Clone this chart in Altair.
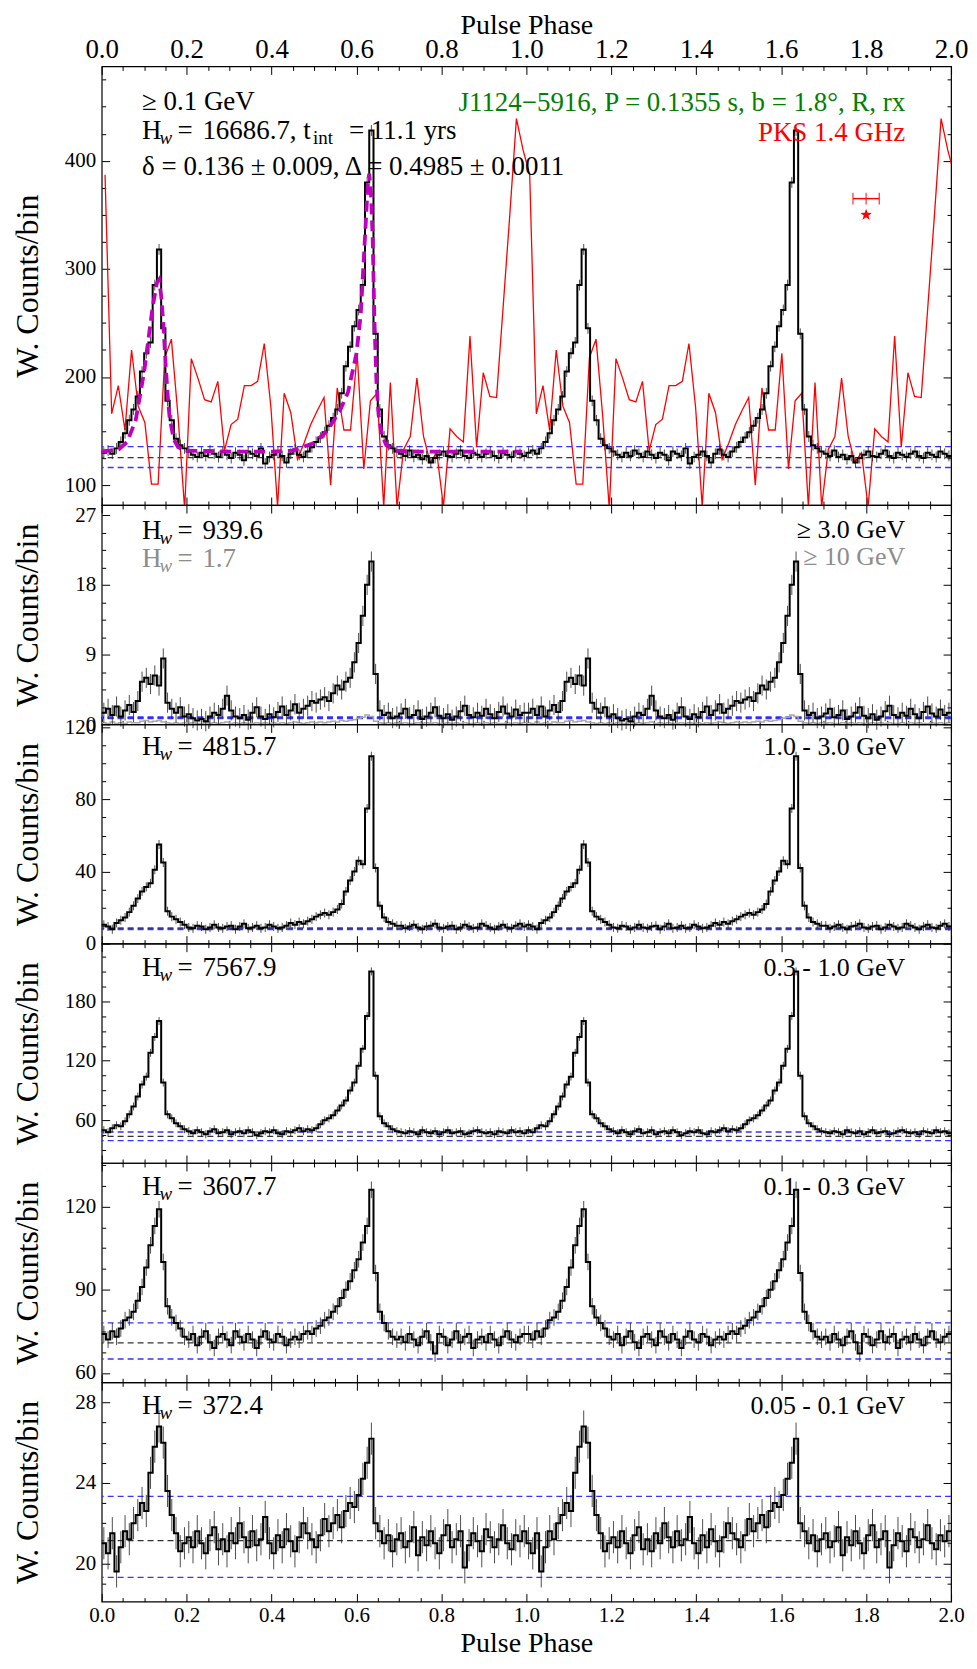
import altair as alt
import pandas as pd

FONT = "Liberation Serif"
NB = 100                      # bins per rotation; the figure shows two rotations
W, H_TOP, H_SUB = 852, 440, 220

# ---------------- weighted counts per bin (one rotation, phase 0-1) ----------------
ge01 = [130, 132, 129, 134, 140, 148, 160, 170, 182, 205,
        222, 232, 285, 318, 245, 178, 160, 143, 137, 134,
        131, 128, 126, 130, 127, 132, 129, 126, 131, 128,
        125, 130, 128, 123, 131, 129, 127, 134, 120, 126,
        128, 131, 127, 121, 129, 133, 128, 126, 131, 135,
        140, 144, 149, 155, 162, 170, 185, 210, 228, 247,
        262, 285, 380, 428, 240, 170, 145, 137, 134, 131,
        129, 127, 132, 126, 128, 124, 127, 121, 125, 128,
        131, 127, 126, 129, 132, 127, 125, 130, 128, 126,
        129, 131, 127, 125, 130, 128, 126, 131, 129, 127]

ge3 = [1.5, 2.0, 1.2, 2.3, 1.0, 1.8, 2.5, 1.6, 3.0, 5.5,
       6.0, 5.2, 6.3, 5.0, 8.5, 2.8, 2.0, 1.5, 2.2, 1.0,
       1.3, 0.8, 0.5, 0.7, 0.4, 1.0, 1.5, 1.2, 2.0, 3.7,
       1.8, 1.0, 0.8, 1.2, 0.6, 1.5, 2.2, 1.0, 0.7, 1.3,
       0.9, 1.6, 2.3, 1.2, 1.8, 2.6, 1.5, 2.0, 2.4, 3.0,
       2.8, 3.2, 3.5, 3.0, 4.0, 5.0, 4.5, 5.5, 6.0, 8.0,
       10.5, 14.0, 18.0, 21.0, 6.5, 1.8, 1.2, 1.5, 0.8, 1.0,
       1.4, 2.0, 0.9, 1.2, 1.8, 0.7, 1.0, 1.5, 2.2, 1.1,
       0.8, 1.3, 0.6, 1.0, 1.7, 2.4, 1.2, 0.9, 1.5, 1.1,
       2.0, 1.3, 0.8, 1.6, 2.3, 1.4, 1.0, 1.9, 1.2, 1.5]

ge10 = [0.2, 0.1, 0.3, 0.1, 0.2, 0.1, 0.3, 0.2, 0.2, 0.4,
        0.5, 0.3, 0.4, 0.5, 0.3, 0.2, 0.1, 0.2, 0.1, 0.2,
        0.1, 0.2, 0.1, 0.1, 0.2, 0.1, 0.2, 0.1, 0.2, 0.3,
        0.1, 0.2, 0.1, 0.2, 0.1, 0.1, 0.2, 0.1, 0.2, 0.1,
        0.2, 0.1, 0.2, 0.1, 0.2, 0.3, 0.2, 0.1, 0.2, 0.3,
        0.2, 0.3, 0.2, 0.3, 0.4, 0.3, 0.5, 0.4, 0.5, 0.6,
        0.8, 0.9, 1.2, 1.0, 0.4, 0.2, 0.1, 0.2, 0.1, 0.2,
        0.1, 0.2, 0.1, 0.1, 0.2, 0.1, 0.2, 0.1, 0.2, 0.1,
        0.1, 0.2, 0.1, 0.2, 0.1, 0.2, 0.1, 0.1, 0.2, 0.1,
        0.2, 0.1, 0.2, 0.1, 0.1, 0.2, 0.1, 0.2, 0.1, 0.2]

e1_3 = [10.5, 9.5, 8.0, 11.5, 13.0, 14.5, 17.5, 21.0, 25.0, 29.0,
        31.5, 33.5, 41.0, 55.0, 45.0, 18.0, 15.0, 13.5, 12.0, 10.5,
        9.0, 8.5, 10.0, 9.5, 8.0, 9.0, 10.5, 9.0, 8.5, 9.5,
        10.0, 8.0, 9.5, 11.0, 8.5, 9.0, 10.0, 8.5, 9.0, 10.5,
        9.5, 8.5, 9.0, 10.0, 11.5, 10.5, 12.0, 11.0, 12.5, 13.5,
        15.0, 16.0, 17.0, 16.0, 17.5, 19.0, 22.0, 29.0, 35.0, 40.0,
        46.0, 44.0, 75.0, 104.0, 42.0, 21.0, 14.5, 12.0, 11.0, 10.0,
        10.0, 8.5, 9.5, 10.5, 9.0, 8.0, 9.5, 10.0, 11.0, 9.0,
        8.5, 9.5, 10.0, 8.0, 9.0, 10.5, 9.5, 8.5, 9.0, 11.0,
        10.0, 9.0, 8.0, 9.5, 10.5, 9.0, 8.5, 10.0, 11.0, 9.5]

e03_1 = [50, 48, 52, 55, 54, 59, 66, 74, 84, 96,
         104, 128, 144, 160, 98, 66, 62, 57, 54, 51,
         49, 47, 50, 48, 46, 49, 51, 47, 48, 50,
         46, 48, 49, 47, 50, 48, 45, 47, 49, 48,
         50, 47, 46, 49, 48, 50, 52, 49, 51, 50,
         52, 56, 60, 62, 65, 70, 75, 80, 90, 98,
         115, 132, 165, 210, 105, 64, 57, 54, 51, 49,
         48, 47, 49, 48, 46, 50, 48, 47, 49, 46,
         48, 50, 47, 48, 49, 46, 47, 49, 50, 48,
         47, 48, 46, 49, 48, 47, 50, 48, 49, 47]

e01_03 = [74, 72, 75, 73, 76, 79, 80, 82, 86, 91,
          98, 106, 113, 119, 100, 84, 80, 78, 76, 73,
          72, 74, 70, 73, 75, 71, 69, 73, 74, 72,
          70, 75, 73, 71, 74, 72, 69, 73, 75, 72,
          71, 74, 73, 70, 72, 73, 72, 74, 75, 74,
          76, 77, 79, 80, 82, 84, 87, 90, 93, 97,
          101, 107, 113, 126, 96, 82, 78, 75, 73, 72,
          73, 71, 74, 72, 70, 73, 75, 71, 67, 74,
          73, 70, 72, 75, 71, 73, 74, 69, 72, 73,
          71, 74, 72, 70, 73, 75, 72, 71, 73, 74]

e005_01 = [21.0, 20.5, 21.5, 19.6, 20.8, 21.6, 21.2, 22.0, 22.4, 23.0,
           22.6, 24.5, 25.8, 26.8, 26.0, 23.6, 22.4, 21.5, 20.6, 21.0,
           21.3, 20.8, 21.6, 21.0, 20.5, 21.4, 21.8, 20.7, 21.2, 20.6,
           21.5, 21.0, 22.0, 21.3, 20.8, 21.6, 20.9, 21.2, 22.3, 21.0,
           20.5, 21.4, 20.8, 21.7, 21.1, 20.6, 21.3, 22.0, 21.5, 21.2,
           20.8, 21.4, 22.2, 21.6, 22.0, 22.4, 21.8, 22.6, 23.0, 22.8,
           23.4, 24.2, 25.0, 26.2, 22.0, 21.6, 21.0, 21.4, 20.6, 21.2,
           21.5, 20.8, 21.1, 21.8, 20.4, 21.3, 20.9, 21.6, 21.0, 20.5,
           21.4, 21.9, 20.8, 21.2, 21.6, 19.8, 20.9, 21.5, 21.1, 20.6,
           21.7, 21.3, 20.8, 21.2, 21.9, 21.0, 20.7, 21.4, 21.1, 21.6]

# typical error bar half-length per panel
errors = [5.0, 1.3, 2.5, 4.0, 3.0, 0.8]

# background level (black dashed) and band (blue dashed) per panel
bkg = [125.5, 0.85, 8.3, 43.9, 70.8, 21.13]
bkg_hi = [135.7, 0.95, 8.8, 48.2, 78.0, 23.33]
bkg_lo = [116.3, 0.75, 7.8, 39.6, 65.0, 19.3]

# radio profile, PKS 1.4 GHz (64 bins per rotation, scaled to top panel)
radio = [387, 166, 192, 151, 225, 173, 158, 101, 101, 218,
         235, 164, 78, 217, 199, 179, 177, 196, 132, 156,
         161, 192, 192, 196, 231, 172, 80, 185, 167, 124,
         139, 156, 169, 181, 100, 190, 151, 151, 222, 115,
         178, 185, 80, 195, 80, 133, 145, 199, 145, 121,
         130, 80, 152, 145, 140, 238, 135, 204, 182, 181,
         265, 350, 439, 410]
NR = 64

# two-peak fit (magenta), first rotation
fit_phase = [0.0, 0.04, 0.06, 0.08, 0.10, 0.11, 0.12, 0.13, 0.135, 0.14, 0.145,
             0.15, 0.155, 0.16, 0.17, 0.18, 0.20, 0.30, 0.40, 0.45, 0.50, 0.53,
             0.56, 0.58, 0.60, 0.61, 0.62, 0.627, 0.63, 0.634, 0.638, 0.642,
             0.647, 0.652, 0.66, 0.67, 0.69, 0.75, 0.99]
fit_value = [131, 133, 140, 160, 205, 235, 265, 287, 290, 275, 250,
             215, 185, 162, 142, 135, 132, 131, 131, 132, 139, 150,
             168, 186, 222, 258, 330, 380, 388, 370, 330, 255,
             195, 165, 146, 137, 132, 131, 131]

# radio pulse phase marker (red error bar and star)
mark_phase = [1.80]
mark_err = [0.031]
mark_bar_y = [365]
mark_star_y = [350]

# panel y ranges, major ticks, minor tick step
y_domains = [[81.6, 487.3], [0, 28.3], [0, 121.7], [17, 238], [56.6, 135.7], [18.1, 29.0]]
y_major = [[100, 200, 300, 400], [0, 9, 18, 27], [0, 40, 80, 120],
           [60, 120, 180], [60, 90, 120], [20, 24, 28]]
y_minor_step = [25, 2.25, 10, 15, 7.5, 1]

hw_values = ["16686.7", "939.6", "4815.7", "7567.9", "3607.7", "372.4"]
band_labels = ["\u2265 0.1 GeV", "\u2265 3.0 GeV", "1.0 - 3.0 GeV", "0.3 - 1.0 GeV",
               "0.1 - 0.3 GeV", "0.05 - 0.1 GeV"]

XMAJ = [round(0.2 * k, 1) for k in range(11)]
XMIN = [round(0.05 * k, 2) for k in range(41) if k % 4 != 0]

BLUE = "#3535ff"
GREY = "#8c8c8c"
MAG = "#bf00bf"
ONE = pd.DataFrame({"a": [0]})
RIGHT_X = 806


def minors(lo, hi, step, majors):
    out = []
    k = int(lo // step)
    while k * step <= hi + 1e-9:
        v = round(k * step, 6)
        if lo < v < hi and all(abs(v - m) > 1e-6 for m in majors):
            out.append(v)
        k += 1
    return out


def steps(vals):
    v = list(vals) + list(vals)
    return pd.DataFrame({"phase": [i / NB for i in range(len(v))] + [2.0],
                         "value": v + [v[-1]]})


def errs(vals, e):
    v = list(vals) + list(vals)
    return pd.DataFrame({"phase": [(i + 0.5) / NB for i in range(len(v))],
                         "lo": [a - e for a in v], "hi": [a + e for a in v]})


def xaxis(orient, major, h, labels=False, title=False):
    t = 8 if major else 4
    kw = dict(orient=orient, values=XMAJ if major else XMIN, tickSize=t, offset=-t,
              domain=False, grid=False, ticks=True, tickColor="black", tickWidth=1,
              labels=labels, minExtent=0)
    if labels:
        big = orient == "top"
        kw.update(format=".1f", labelFont=FONT, labelFontSize=27 if big else 21,
                  labelColor="black", labelPadding=3,
                  labelFlush=False, labelOverlap=False)
    if title:
        kw.update(title="Pulse Phase", titleFont=FONT, titleFontSize=28,
                  titleFontWeight="normal", titleColor="black", titleX=W / 2,
                  titleY=(-41 if orient == "top" else 58), titleAlign="center",
                  titleBaseline="alphabetic")
    else:
        kw.update(title=None)
    return alt.Axis(**kw)


def yaxis(orient, major, vals, h, labels=False):
    t = 8 if major else 4
    kw = dict(orient=orient, values=vals, tickSize=t, offset=-t, domain=False,
              grid=False, ticks=True, tickColor="black", tickWidth=1, labels=labels,
              minExtent=0)
    if labels:
        kw.update(format="d", labelFont=FONT, labelFontSize=21, labelColor="black",
                  labelPadding=6, labelFlush=False, labelOverlap=False,
                  title="W. Counts/bin", titleFont=FONT, titleFontSize=32,
                  titleFontWeight="normal", titleColor="black", titleX=-72,
                  titleY=h / 2, titleAngle=270, titleAlign="center",
                  titleBaseline="alphabetic")
    else:
        kw.update(title=None)
    return alt.Axis(**kw)


def txt(s, x, y, size=27, color="black", align="left", italic=False):
    return alt.Chart(ONE).mark_text(
        text=s, align=align, baseline="middle", font=FONT, fontSize=size, color=color,
        fontStyle="italic" if italic else "normal"
    ).encode(x=alt.value(x), y=alt.value(y))


def hw(value, y, color="black"):
    return [txt("H", 40.5, y, color=color),
            txt("w", 58, y + 7, size=19, color=color, italic=True),
            txt("=", 76, y, color=color),
            txt(value, 101, y, color=color)]


def panel(idx, vals, h, top_labels=False, bottom_labels=False, extra_before=(),
          extra_after=(), texts=()):
    dom = y_domains[idx]
    xs = alt.Scale(domain=[0, 2], nice=False, zero=False)
    ys = alt.Scale(domain=dom, nice=False, zero=False)
    sd = steps(vals)
    ymn = minors(dom[0], dom[1], y_minor_step[idx], y_major[idx])
    layers = []
    combos = [
        (xaxis("bottom", True, h, labels=bottom_labels, title=bottom_labels),
         yaxis("left", True, y_major[idx], h, labels=True)),
        (xaxis("bottom", False, h), yaxis("left", False, ymn, h)),
        (xaxis("top", True, h, labels=top_labels, title=top_labels),
         yaxis("right", True, y_major[idx], h)),
        (xaxis("top", False, h), yaxis("right", False, ymn, h)),
    ]
    for xa, ya in combos:
        layers.append(alt.Chart(sd).mark_point(opacity=0).encode(
            x=alt.X("phase:Q", scale=xs, axis=xa),
            y=alt.Y("value:Q", scale=ys, axis=ya)))
    for val, col in [(bkg[idx], "#333333"), (bkg_hi[idx], BLUE), (bkg_lo[idx], BLUE)]:
        layers.append(alt.Chart(pd.DataFrame({"y": [val]})).mark_rule(
            color=col, strokeWidth=1.3, strokeDash=[6, 4]).encode(
            y=alt.Y("y:Q", scale=ys, axis=None)))
    for f in extra_before:
        layers.append(f(xs, ys))
    ed = errs(vals, errors[idx])
    layers.append(alt.Chart(ed).mark_rule(color="#222222", strokeWidth=1, opacity=0.8).encode(
        x=alt.X("phase:Q", scale=xs, axis=None),
        y=alt.Y("lo:Q", scale=ys, axis=None), y2="hi:Q"))
    layers.append(alt.Chart(sd).mark_line(interpolate="step-after", color="black",
                                          strokeWidth=2).encode(
        x=alt.X("phase:Q", scale=xs, axis=None),
        y=alt.Y("value:Q", scale=ys, axis=None)))
    for f in extra_after:
        layers.append(f(xs, ys))
    layers.extend(texts)
    return alt.layer(*layers).properties(width=W, height=h).resolve_axis(
        x="independent", y="independent")


# ---------------- extra layers ----------------
def radio_line(xs, ys):
    ph = [(k + 0.5) / NR for k in range(NR)]
    phases = ph + [p + 1 for p in ph] + [2 + ph[0]]
    vals = radio + radio + [radio[0]]
    return alt.Chart(pd.DataFrame({"phase": phases, "value": vals})).mark_line(
        color="red", strokeWidth=1.3, clip=True).encode(
        x=alt.X("phase:Q", scale=xs, axis=None),
        y=alt.Y("value:Q", scale=ys, axis=None))


def fit_line(xs, ys):
    return alt.Chart(pd.DataFrame({"phase": fit_phase, "value": fit_value})).mark_line(
        color=MAG, strokeWidth=3.8, strokeDash=[11, 6]).encode(
        x=alt.X("phase:Q", scale=xs, axis=None),
        y=alt.Y("value:Q", scale=ys, axis=None))


def marker_bar(xs, ys):
    d = pd.DataFrame({"phase": mark_phase, "lo": [p - e for p, e in zip(mark_phase, mark_err)],
                      "hi": [p + e for p, e in zip(mark_phase, mark_err)], "y": mark_bar_y})
    return alt.Chart(d).mark_rule(color="red", strokeWidth=1.4).encode(
        x=alt.X("lo:Q", scale=xs, axis=None), x2="hi:Q",
        y=alt.Y("y:Q", scale=ys, axis=None))


def marker_caps(xs, ys):
    d = pd.DataFrame({"phase": [mark_phase[0] - mark_err[0], mark_phase[0], mark_phase[0] + mark_err[0]],
                      "y": mark_bar_y * 3})
    return alt.Chart(d).mark_tick(color="red", orient="vertical", size=12, thickness=1.4).encode(
        x=alt.X("phase:Q", scale=xs, axis=None), y=alt.Y("y:Q", scale=ys, axis=None))


STAR = ("M0,-1L0.235,-0.324L0.951,-0.309L0.38,0.124L0.588,0.809L0,0.4L-0.588,0.809"
        "L-0.38,0.124L-0.951,-0.309L-0.235,-0.324Z")


def marker_star(xs, ys):
    d = pd.DataFrame({"phase": mark_phase, "y": mark_star_y})
    return alt.Chart(d).mark_point(shape=STAR, filled=True, color="red", size=150,
                                   opacity=1).encode(
        x=alt.X("phase:Q", scale=xs, axis=None), y=alt.Y("y:Q", scale=ys, axis=None))


def ge10_line(xs, ys):
    return alt.Chart(steps(ge10)).mark_line(interpolate="step-after", color="#a8a8a8",
                                            strokeWidth=1.5).encode(
        x=alt.X("phase:Q", scale=xs, axis=None),
        y=alt.Y("value:Q", scale=ys, axis=None))


# ---------------- panels ----------------
t1 = [txt(band_labels[0], 40.5, 36),
      txt("H", 40.5, 65), txt("w", 58, 72, size=19, italic=True), txt("=", 76, 65),
      txt("16686.7, t", 101, 65), txt("int", 212, 72, size=19), txt("= 11.1 yrs", 248, 65),
      txt("\u03b4 = 0.136 \u00b1 0.009, \u0394 = 0.4985 \u00b1 0.0011", 40.5, 101),
      txt("J1124\u22125916, P = 0.1355 s, b = 1.8\u00b0, R, rx", RIGHT_X, 37,
          color="green", align="right"),
      txt("PKS 1.4 GHz", RIGHT_X, 67, color="red", align="right")]
p1 = panel(0, ge01, H_TOP, top_labels=True, extra_before=[radio_line],
           extra_after=[fit_line, marker_bar, marker_caps, marker_star], texts=t1)

t2 = hw(hw_values[1], 26) + hw("1.7", 54, color=GREY) + [
    txt(band_labels[1], RIGHT_X, 25, size=26, align="right"),
    txt("\u2265 10 GeV", RIGHT_X, 52, size=26, color=GREY, align="right")]
p2 = panel(1, ge3, H_SUB, extra_before=[ge10_line], texts=t2)

p3 = panel(2, e1_3, H_SUB, texts=hw(hw_values[2], 23) + [
    txt(band_labels[2], RIGHT_X, 23, size=26, align="right")])
p4 = panel(3, e03_1, H_SUB, texts=hw(hw_values[3], 24) + [
    txt(band_labels[3], RIGHT_X, 24, size=26, align="right")])
p5 = panel(4, e01_03, H_SUB, texts=hw(hw_values[4], 24) + [
    txt(band_labels[4], RIGHT_X, 24, size=26, align="right")])
p6 = panel(5, e005_01, H_SUB, bottom_labels=True, texts=hw(hw_values[5], 24) + [
    txt(band_labels[5], RIGHT_X, 24, size=26, align="right")])

chart = alt.vconcat(p1, p2, p3, p4, p5, p6, spacing=0, bounds="flush").properties(
    padding={"left": 3, "top": 0, "right": 0, "bottom": 0}
).configure_view(stroke="black", strokeWidth=1.2)

chart.save("out.html", embed_options={"renderer": "svg", "actions": False})
